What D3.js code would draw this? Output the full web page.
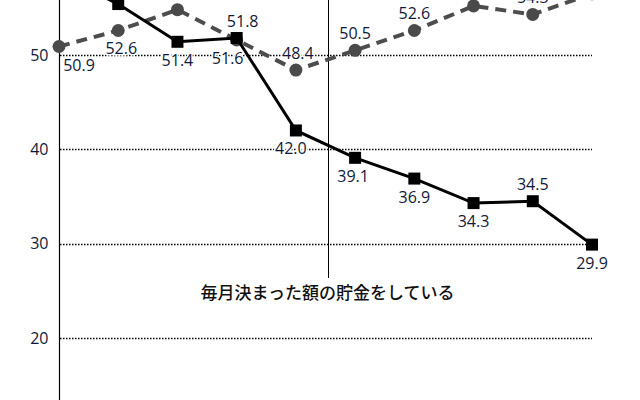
<!DOCTYPE html>
<html>
<head>
<meta charset="utf-8">
<script src="https://cdn.jsdelivr.net/npm/d3@7"></script>
<style>
  body { margin: 0; background: #fff; }
  svg { display: block; font-family: "Open Sans", "Noto Sans CJK JP", sans-serif; }
</style>
</head>
<body>
<div id="chart"></div>
<script>
// categories (x labels are cropped out of the picture)
const categories = ["1", "2", "3", "4", "5", "6", "7", "8", "9", "10"];

// dashed grey series (circles)
const seriesCircle = [50.9, 52.6, 54.8, 51.6, 48.4, 50.5, 52.6, 55.2, 54.3, 56.5];
// solid black series (squares): 毎月決まった額の貯金をしている
const seriesSquare = [58.5, 55.4, 51.4, 51.8, 42.0, 39.1, 36.9, 34.3, 34.5, 29.9];

// where each value label sits relative to its point
const circleLabelSide = ["below", "below", "above", "below", "above", "above", "above", "above", "above", "above"];
const squareLabelSide = ["above", "above", "below", "above", "below", "below", "below", "below", "above", "below"];

const yTicks = [20, 30, 40, 50];
const annotation = "毎月決まった額の貯金をしている";
const annotationAt = 4.55; // position along the category index

const width = 640, height = 400;
const svg = d3.select("#chart").append("svg")
    .attr("width", width)
    .attr("height", height);

// index based x scale
const x = d3.scaleLinear()
    .domain([0, categories.length - 1])
    .range([59, 592]);

const y = d3.scaleLinear()
    .domain([20, 50])
    .range([338, 55]);

const ink = "#0f1a3a";

// gridlines
svg.append("g")
    .selectAll("line")
    .data(yTicks)
    .enter().append("line")
    .attr("x1", x(0) + 1)
    .attr("x2", x(categories.length - 1))
    .attr("y1", d => Math.round(y(d)) + 0.5)
    .attr("y2", d => Math.round(y(d)) + 0.5)
    .attr("stroke", "#000")
    .attr("stroke-width", 1.5)
    .attr("stroke-dasharray", "1.5,1.5");

// y axis
const yAxis = d3.axisLeft(y).tickValues(yTicks).tickSize(0).tickPadding(11);
const gy = svg.append("g")
    .attr("transform", "translate(" + (x(0) + 0.5) + ",0)")
    .call(yAxis);
gy.select(".domain").remove();
gy.selectAll("text")
    .attr("fill", ink)
    .style("font-family", "'Open Sans', sans-serif")
    .style("font-size", "16px");
svg.append("line")
    .attr("x1", x(0) + 0.5).attr("x2", x(0) + 0.5)
    .attr("y1", 0).attr("y2", height)
    .attr("stroke", "#000")
    .attr("stroke-width", 1.2);

// annotation callout
const ax = Math.round(x(annotationAt)) + 0.5;
svg.append("line")
    .attr("x1", ax).attr("x2", ax)
    .attr("y1", 0).attr("y2", 278)
    .attr("stroke", "#000")
    .attr("stroke-width", 1);
svg.append("text")
    .attr("x", ax - 1)
    .attr("y", 299)
    .attr("text-anchor", "middle")
    .attr("fill", "#111")
    .style("font-family", "'Noto Sans CJK JP', sans-serif")
    .style("font-size", "17px")
    .style("font-weight", 500)
    .text(annotation);

const line = d3.line()
    .x((d, i) => x(i))
    .y(d => y(d));

// dashed circle series
svg.append("path")
    .datum(seriesCircle)
    .attr("d", line)
    .attr("fill", "none")
    .attr("stroke", "#4d4d4d")
    .attr("stroke-width", 4)
    .attr("stroke-dasharray", "11,7");

svg.append("g")
    .selectAll("circle")
    .data(seriesCircle)
    .enter().append("circle")
    .attr("cx", (d, i) => x(i))
    .attr("cy", d => y(d))
    .attr("r", 6.5)
    .attr("fill", "#4a4a4a");

// solid square series
svg.append("path")
    .datum(seriesSquare)
    .attr("d", line)
    .attr("fill", "none")
    .attr("stroke", "#000")
    .attr("stroke-width", 3);

svg.append("g")
    .selectAll("rect")
    .data(seriesSquare)
    .enter().append("rect")
    .attr("x", (d, i) => x(i) - 6)
    .attr("y", d => y(d) - 6)
    .attr("width", 12)
    .attr("height", 12)
    .attr("fill", "#000");

// value labels
function addLabels(values, sides, shift) {
    svg.append("g")
        .selectAll("text")
        .data(values)
        .enter().append("text")
        .attr("x", (d, i) => x(i) + (shift[i] || 0))
        .attr("y", (d, i) => y(d) + (sides[i] === "above" ? -11 : 24))
        .attr("text-anchor", "middle")
        .attr("fill", ink)
        .attr("stroke", "#fff")
        .attr("stroke-width", 3)
        .attr("paint-order", "stroke")
        .style("font-size", "16px")
        .text(d => d.toFixed(1));
}

addLabels(seriesCircle, circleLabelSide, [20, 3, 0, -9, 2, 0, 0, 0, 0, 0]);
addLabels(seriesSquare, squareLabelSide, [0, 0, 0, 6, -5, -2, 0, 0, 0, 0]);
</script>
</body>
</html>
